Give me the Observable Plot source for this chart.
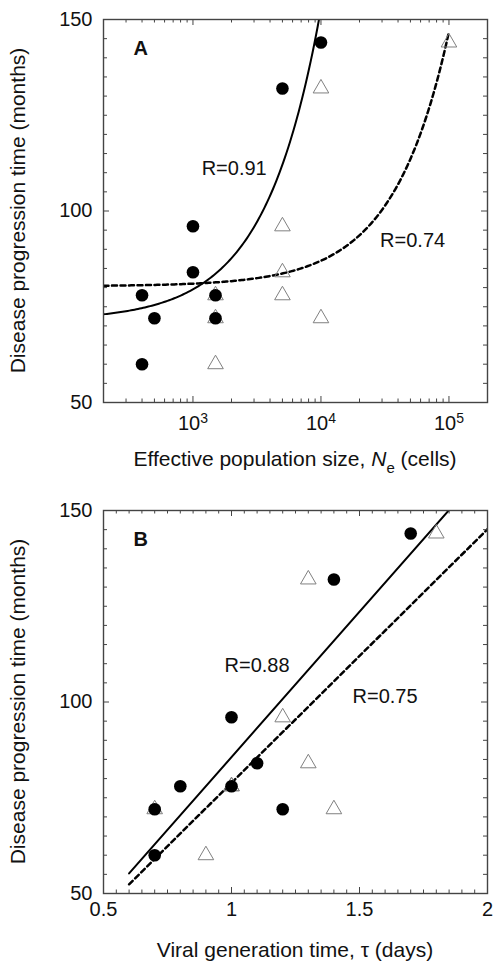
<!DOCTYPE html>
<html><head><meta charset="utf-8">
<script src="https://cdn.jsdelivr.net/npm/d3@7"></script>
<script src="https://cdn.jsdelivr.net/npm/@observablehq/plot@0.6"></script>
<style>
body{margin:0;background:#fff;}
#chart{width:493px;height:963px;}
#chart svg{display:block;}
</style></head><body><div id="chart"></div>
<script>
// ---------- data ----------
// Panel A: effective population size Ne (cells) vs disease progression time (months)
const neCircles    = [400, 400, 500, 1000, 1000, 1500, 1500, 5000, 10000];
const dptCirclesA  = [60, 78, 72, 84, 96, 72, 78, 132, 144];
const neTriangles  = [1500, 1500, 1500, 5000, 5000, 5000, 10000, 10000, 100000];
const dptTrianglesA= [60, 72, 78, 78, 84, 96, 72, 132, 144];
// Panel B: viral generation time tau (days) vs disease progression time (months)
const tauCircles   = [0.7, 0.7, 0.8, 1.0, 1.0, 1.1, 1.2, 1.4, 1.7];
const dptCirclesB  = [60, 72, 78, 78, 96, 84, 72, 132, 144];
const tauTriangles = [0.9, 0.7, 1.0, 1.0, 1.3, 1.2, 1.4, 1.3, 1.8];
const dptTrianglesB= [60, 72, 78, 78, 84, 96, 72, 132, 144];
// fit ranges (x extent of regression lines)
const fitRangeA = [200, 100000];
const fitRangeB = [0.6, 2.0];
// tick labels
const yTicks = [50, 100, 150];
const xTicksA = [1000, 10000, 100000];
const xTickLabelsA = ["10^3", "10^4", "10^5"];
const xTicksB = [0.5, 1, 1.5, 2];
const xTickLabelsB = ["0.5", "1", "1.5", "2"];
// annotations
const rLabelsA = ["R=0.91", "R=0.74"];
const rLabelXA = [2100, 52000];
const rLabelYA = [111, 92.3];
const rLabelsB = ["R=0.88", "R=0.75"];
const rLabelXB = [1.10, 1.60];
const rLabelYB = [109.4, 101.4];
const yTitle = "Disease progression time (months)";
const xTitleB = "Viral generation time, \u03C4 (days)";

// ---------- helpers ----------
function lsq(xs, ys) {
  const mx = d3.mean(xs), my = d3.mean(ys);
  let sxy = 0, sxx = 0;
  xs.forEach((x, i) => { sxy += (x - mx) * (ys[i] - my); sxx += (x - mx) ** 2; });
  const b = sxy / sxx;
  return { a: my - b * mx, b };
}
function curveLog(fit, [lo, hi], n = 200) {
  const l0 = Math.log10(lo), l1 = Math.log10(hi);
  return d3.range(n + 1).map(i => { const x = 10 ** (l0 + (l1 - l0) * i / n); return { x, y: fit.a + fit.b * x }; });
}
function curveLin(fit, [lo, hi]) {
  return [lo, hi].map(x => ({ x, y: fit.a + fit.b * x }));
}
const pts = (xs, ys) => xs.map((x, i) => ({ x, y: ys[i] }));

const W = 493, mL = 103, mR = 6;
const plotW = W - mL - mR;
const frameColor = "#444";
const textColor = "#111";
const font = "'Liberation Sans', Arial, Helvetica, sans-serif";
const yMinor = d3.range(50, 151, 5).filter(v => !yTicks.includes(v));
const xMinorA = [100, 1000, 10000, 100000].flatMap(d => d3.range(2, 10).map(k => k * d)).filter(v => v >= 200 && v <= 200000);
const xMinorB = d3.range(0, 31).map(i => +(0.5 + i * 0.05).toFixed(2)).filter(v => !xTicksB.includes(v));

function tickMarks(plotH, xMajor, xMinor) {
  const s = { stroke: frameColor, strokeWidth: 1 };
  return [
    Plot.tickY(yMinor, { y: d => d, insetRight: plotW - 4, ...s }),
    Plot.tickY(yMinor, { y: d => d, insetLeft: plotW - 4, ...s }),
    Plot.tickY(yTicks, { y: d => d, insetRight: plotW - 6, ...s }),
    Plot.tickY(yTicks, { y: d => d, insetLeft: plotW - 6, ...s }),
    Plot.tickX(xMinor, { x: d => d, insetBottom: plotH - 3.5, ...s }),
    Plot.tickX(xMinor, { x: d => d, insetTop: plotH - 3.5, ...s }),
    Plot.tickX(xMajor, { x: d => d, insetBottom: plotH - 6, ...s }),
    Plot.tickX(xMajor, { x: d => d, insetTop: plotH - 6, ...s })
  ];
}
function dataMarks(circles, triangles, fitC, fitT, labels, letter) {
  return [
    Plot.line(fitC, { x: "x", y: "y", stroke: "#000", strokeWidth: 2, clip: true }),
    Plot.line(fitT, { x: "x", y: "y", stroke: "#000", strokeWidth: 2.5, strokeDasharray: "5,3.5", clip: true }),
    Plot.dot(triangles, { x: "x", y: "y", symbol: "triangle", r: 5.8, stroke: "#808080", strokeWidth: 1, fill: "none" }),
    Plot.dot(circles, { x: "x", y: "y", r: 6.3, fill: "#000", stroke: "none" }),
    Plot.text(labels, { x: "x", y: "y", text: "t", fontSize: 20, fill: textColor, textAnchor: "middle", lineAnchor: "middle" }),
    Plot.text([letter], { frameAnchor: "top-left", dx: 30, dy: 21, textAnchor: "start", lineAnchor: "top", fontSize: 20, fontWeight: "bold", fill: textColor })
  ];
}

// ---------- panel A ----------
const hA = 481, mTA = 19, mBA = 79, plotHA = hA - mTA - mBA;
const fitAc = lsq(neCircles, dptCirclesA), fitAt = lsq(neTriangles, dptTrianglesA);
const labA = rLabelsA.map((t, i) => ({ t, x: rLabelXA[i], y: rLabelYA[i] }));
const svgA = Plot.plot({
  width: W, height: hA, marginLeft: mL, marginRight: mR, marginTop: mTA, marginBottom: mBA,
  style: { fontFamily: font, background: "#fff", overflow: "visible" },
  x: { type: "log", domain: [200, 200000] },
  y: { domain: [50, 150] },
  marks: [
    ...dataMarks(pts(neCircles, dptCirclesA), pts(neTriangles, dptTrianglesA),
      curveLog(fitAc, fitRangeA), curveLog(fitAt, fitRangeA), labA, "A"),
    ...tickMarks(plotHA, xTicksA, xMinorA),
    Plot.frame({ stroke: frameColor, strokeWidth: 1.4 }),
    Plot.axisY(yTicks, { anchor: "left", tickSize: 0, tickPadding: 11, fontSize: 20, fill: textColor, label: null }),
    Plot.axisX(xTicksA, { anchor: "bottom", tickSize: 0, tickPadding: 13, fontSize: 20, fill: textColor, label: null,
      tickFormat: d => xTickLabelsA[xTicksA.indexOf(d)] })
  ]
});

// ---------- panel B ----------
const hB = 482, mTB = 29, mBB = 70, plotHB = hB - mTB - mBB;
const fitBc = lsq(tauCircles, dptCirclesB), fitBt = lsq(tauTriangles, dptTrianglesB);
const labB = rLabelsB.map((t, i) => ({ t, x: rLabelXB[i], y: rLabelYB[i] }));
const svgB = Plot.plot({
  width: W, height: hB, marginLeft: mL, marginRight: mR, marginTop: mTB, marginBottom: mBB,
  style: { fontFamily: font, background: "#fff", overflow: "visible" },
  x: { domain: [0.5, 2] },
  y: { domain: [50, 150] },
  marks: [
    ...dataMarks(pts(tauCircles, dptCirclesB), pts(tauTriangles, dptTrianglesB),
      curveLin(fitBc, fitRangeB), curveLin(fitBt, fitRangeB), labB, "B"),
    ...tickMarks(plotHB, xTicksB, xMinorB),
    Plot.frame({ stroke: frameColor, strokeWidth: 1.4 }),
    Plot.axisY(yTicks, { anchor: "left", tickSize: 0, tickPadding: 11, fontSize: 20, fill: textColor, label: null }),
    Plot.axisX(xTicksB, { anchor: "bottom", tickSize: 0, tickPadding: 8, fontSize: 20, fill: textColor, label: null,
      tickFormat: d => xTickLabelsB[xTicksB.indexOf(d)] })
  ]
});

const chart = document.getElementById("chart");
chart.append(svgA, svgB);

// superscripts for the log tick labels
d3.select(svgA).selectAll('g[aria-label="x-axis tick label"] text').each(function () {
  const el = d3.select(this);
  const [base, exp] = el.text().split("^");
  el.text(base);
  el.append("tspan").attr("dy", "-0.5em").attr("font-size", 14).text(exp);
});

// axis titles
function yTitleText(svg, cy) {
  d3.select(svg).append("text")
    .attr("transform", `translate(25,${cy}) rotate(-90)`)
    .attr("text-anchor", "middle").attr("font-size", 21).attr("fill", textColor)
    .attr("font-family", font).text(yTitle);
}
yTitleText(svgA, mTA + plotHA / 2);
yTitleText(svgB, mTB + plotHB / 2);

const tA = d3.select(svgA).append("text")
  .attr("x", mL + plotW / 2).attr("y", 466)
  .attr("text-anchor", "middle").attr("font-size", 21).attr("fill", textColor).attr("font-family", font);
tA.append("tspan").text("Effective population size, ");
tA.append("tspan").attr("font-style", "italic").text("N");
tA.append("tspan").attr("font-size", 15).attr("dy", 7).text("e");
tA.append("tspan").attr("dy", -7).text(" (cells)");

d3.select(svgB).append("text")
  .attr("x", mL + plotW / 2).attr("y", 475.5)
  .attr("text-anchor", "middle").attr("font-size", 21).attr("fill", textColor).attr("font-family", font)
  .text(xTitleB);
</script>
</body></html>
